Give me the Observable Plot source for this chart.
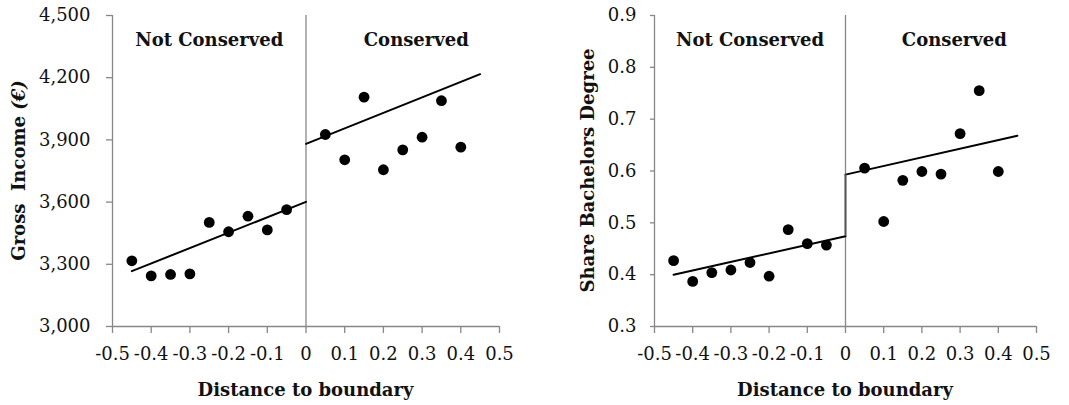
<!DOCTYPE html>
<html><head><meta charset="utf-8">
<script src="https://cdn.jsdelivr.net/npm/d3@7"></script>
<script src="https://cdn.jsdelivr.net/npm/@observablehq/plot@0.6"></script>
<style>
body{margin:0;background:#fff;}
#wrap{display:flex;width:1069px;height:405px;}
#wrap svg{font-family:"DejaVu Serif",serif;display:block;}
</style></head><body><div id="wrap"></div>
<script>
// ---- data ----
const distance = [-0.45,-0.4,-0.35,-0.3,-0.25,-0.2,-0.15,-0.1,-0.05,0.05,0.1,0.15,0.2,0.25,0.3,0.35,0.4];
const income = [3317,3244,3251,3254,3502,3457,3532,3466,3564,3926,3804,4106,3756,3852,3913,4089,3865];
const bachelors = [0.427,0.387,0.404,0.409,0.4235,0.397,0.487,0.460,0.457,0.6056,0.5026,0.582,0.599,0.594,0.672,0.755,0.599];
const fitX = [-0.45, 0, 0, 0.45];
const fitSide = ["Not Conserved","Not Conserved","Conserved","Conserved"];
const incomeFit = [3267, 3601, 3881, 4217];
const bachelorsFit = [0.400, 0.474, 0.593, 0.668];
const xTicks = [-0.5,-0.4,-0.3,-0.2,-0.1,0,0.1,0.2,0.3,0.4,0.5];
const xTickLabels = ["-0.5","-0.4","-0.3","-0.2","-0.1","0","0.1","0.2","0.3","0.4","0.5"];
const incomeTicks = [3000,3300,3600,3900,4200,4500];
const bachelorsTicks = [0.3,0.4,0.5,0.6,0.7,0.8,0.9];
const regionLabels = ["Not Conserved","Conserved"];
const regionX = [-0.25, 0.285];
const xTitle = "Distance to boundary";

const GRAY = "#878787";

function panel({width, marginLeft, marginRight, yDomain, yTicks, yFormat, values, fit, connectJump, titleParts, titleX, yTickPad, yTickSize}) {
  const pts = distance.map((d,i)=>({x:d, y:values[i]}));
  const fitRows = fitX.map((d,i)=>({x:d, y:fit[i], side:fitSide[i]}));
  const regions = regionLabels.map((t,i)=>({t, x:regionX[i]}));
  const marks = [
    Plot.ruleY([yDomain[0]], {stroke: GRAY, strokeWidth: 1.3}),
    Plot.ruleX([xTicks[0]], {stroke: GRAY, strokeWidth: 1.3}),
    Plot.ruleX([0], {stroke: GRAY, strokeWidth: 1.3}),
    Plot.axisX({ticks: xTicks, tickFormat: (d,i)=>xTickLabels[xTicks.indexOf(d)], tickSize: 7, tickPadding: 14, stroke: GRAY, strokeWidth: 1.3, fontSize: 18, fill: "#111", label: null}),
    Plot.axisY({ticks: yTicks, tickFormat: yFormat, tickSize: yTickSize, tickPadding: yTickPad, stroke: GRAY, strokeWidth: 1.3, fontSize: 18, fill: "#111", label: null}),
    Plot.line(fitRows, {x:"x", y:"y", z:"side", stroke:"black", strokeWidth: 2}),
    Plot.dot(pts, {x:"x", y:"y", r:5.4, fill:"black", stroke:"none"}),
    Plot.text(regions, {x:"x", frameAnchor:"top", dy: 18, text:"t", fontWeight:"bold", fontSize: 18, fill:"#111"})
  ];
  if (connectJump) {
    marks.push(Plot.ruleX([0], {y1: fit[1], y2: fit[2], stroke: "#555", strokeWidth: 2}));
  }
  const plot = Plot.plot({
    width, height: 405,
    marginLeft, marginRight, marginTop: 15, marginBottom: 79,
    x: {domain: [-0.5, 0.5]},
    y: {domain: yDomain},
    style: {fontFamily: '"DejaVu Serif", serif', background: "white"},
    marks
  });
  const svg = d3.select(plot);
  const xs = plot.scale("x");
  const ys = plot.scale("y");
  // x title
  svg.append("text")
    .attr("x", xs.apply(0)).attr("y", 396)
    .attr("text-anchor", "middle")
    .attr("font-weight", "bold").attr("font-size", 18).attr("fill", "#111")
    .text(xTitle);
  // y title
  const cy = (ys.apply(yDomain[0]) + ys.apply(yDomain[1])) / 2;
  const t = svg.append("text")
    .attr("transform", `translate(${titleX},${cy}) rotate(-90)`)
    .attr("text-anchor", "middle").attr("dy", "0.35em")
    .attr("font-weight", "bold").attr("font-size", 18).attr("fill", "#111")
    .attr("xml:space", "preserve").style("white-space", "pre");
  titleParts.forEach(p => t.append("tspan").attr("font-style", p.italic ? "italic" : "normal").text(p.text));
  return plot;
}

const wrap = document.getElementById("wrap");
wrap.appendChild(panel({
  width: 530, marginLeft: 112, marginRight: 31,
  yDomain: [3000, 4500], yTicks: incomeTicks, yFormat: d3.format(","),
  values: income, fit: incomeFit, connectJump: false,
  titleParts: [{text: "Gross  Income "}, {text: "(€)", italic: true}], titleX: 18.5,
  yTickPad: 16, yTickSize: 6
}));
wrap.appendChild(panel({
  width: 539, marginLeft: 124, marginRight: 33,
  yDomain: [0.3, 0.9], yTicks: bachelorsTicks, yFormat: d3.format(".1f"),
  values: bachelors, fit: bachelorsFit, connectJump: true,
  titleParts: [{text: "Share Bachelors Degree"}], titleX: 58,
  yTickPad: 14, yTickSize: 4
}));
</script></body></html>
